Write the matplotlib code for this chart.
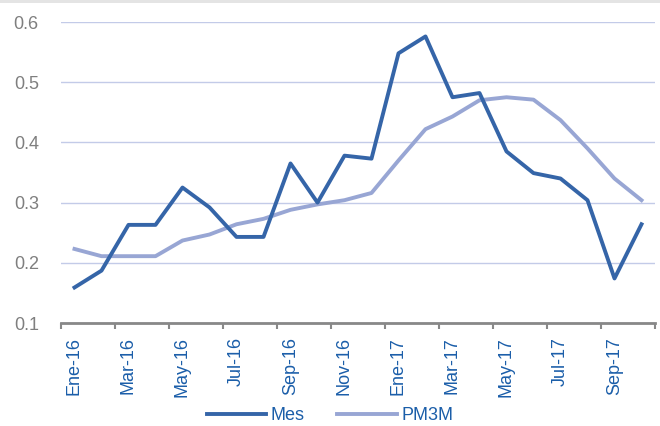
import numpy as np
import matplotlib.pyplot as plt
from matplotlib.patches import Rectangle

months = ['Ene-16', 'Feb-16', 'Mar-16', 'Abr-16', 'May-16', 'Jun-16', 'Jul-16', 'Ago-16',
          'Sep-16', 'Oct-16', 'Nov-16', 'Dic-16', 'Ene-17', 'Feb-17', 'Mar-17', 'Abr-17',
          'May-17', 'Jun-17', 'Jul-17', 'Ago-17', 'Sep-17', 'Oct-17']
mes = [0.159, 0.187, 0.263, 0.263, 0.325, 0.292, 0.243, 0.243, 0.365, 0.300, 0.378,
       0.373, 0.548, 0.576, 0.475, 0.482, 0.385, 0.349, 0.340, 0.304, 0.174, 0.264]
pm3m = [0.223, 0.211, 0.211, 0.211, 0.237, 0.247, 0.264, 0.273, 0.288, 0.297, 0.304,
        0.316, 0.370, 0.422, 0.443, 0.470, 0.475, 0.471, 0.437, 0.390, 0.340, 0.304]

plt.rcParams['font.family'] = ['Liberation Sans', 'DejaVu Sans']

fig = plt.figure(figsize=(6.6, 4.26), dpi=100)
ax = fig.add_axes([61 / 660, (426 - 323) / 426, 594 / 660, 301 / 426])

# light grey band along the top edge
fig.patches.append(Rectangle((0, 423 / 426), 1, 3 / 426, transform=fig.transFigure,
                             facecolor='#e4e4e4', edgecolor='none'))

x = np.arange(len(months))
ax.plot(x, pm3m, color='#98a6d4', lw=2.8, label='PM3M', solid_joinstyle='round')
ax.plot(x, mes, color='#3565a8', lw=2.8, label='Mes', solid_joinstyle='round')

ax.set_xlim(-0.5, len(months) - 0.5)
ax.set_ylim(0.1, 0.6)
ax.set_yticks([0.1, 0.2, 0.3, 0.4, 0.5, 0.6])
ax.set_yticklabels(['0.1', '0.2', '0.3', '0.4', '0.5', '0.6'])
ax.grid(axis='y', color='#c3cbe8', lw=1)
ax.set_axisbelow(True)

ax.set_xticks(x[::2])
ax.set_xticklabels(months[::2], rotation=90)
ax.set_xticks(np.arange(-0.5, len(months), 2), minor=True)
ax.tick_params(axis='x', which='major', length=0, pad=10, labelsize=13, labelcolor='#1b5ea9')
ax.tick_params(axis='x', which='minor', length=4, width=1.5, color='#888888')
ax.tick_params(axis='y', length=0, pad=16, labelsize=13, labelcolor='#7f7f7f')

for side in ['top', 'right', 'left']:
    ax.spines[side].set_visible(False)
ax.spines['bottom'].set_color('#888888')
ax.spines['bottom'].set_linewidth(2)

h, l = ax.get_legend_handles_labels()
fig.legend(h[::-1], l[::-1], loc='center', bbox_to_anchor=(0.5, 10 / 426), ncol=2,
           frameon=False, fontsize=13, handlelength=3.3, columnspacing=1.8,
           handletextpad=0.25, labelcolor='#1b5ea9')

fig.savefig('out.png', dpi=100)
